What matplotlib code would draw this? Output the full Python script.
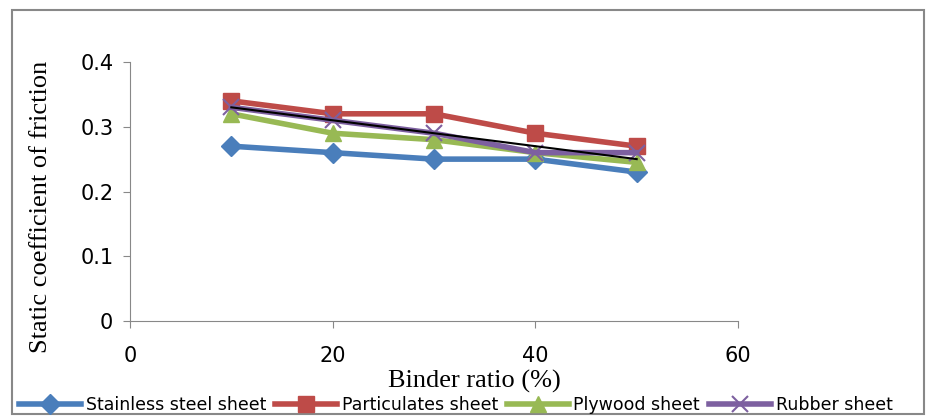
import matplotlib.pyplot as plt
from matplotlib.patches import Rectangle

# data
binder = [10, 20, 30, 40, 50]
stainless = [0.27, 0.26, 0.25, 0.25, 0.23]
particulates = [0.34, 0.32, 0.32, 0.29, 0.27]
plywood = [0.32, 0.29, 0.28, 0.26, 0.245]
rubber = [0.33, 0.31, 0.29, 0.26, 0.26]
trend_x = [10, 50]
trend_y = [0.33, 0.25]

fig = plt.figure(figsize=(9.28, 4.16), dpi=100)
ax = fig.add_axes([130 / 928, 1 - 321 / 416, 608 / 928, 259 / 416])

ax.plot(binder, stainless, color='#4a7ebb', lw=4, marker='D', ms=10, label='Stainless steel sheet')
ax.plot(binder, particulates, color='#be4b48', lw=4, marker='s', ms=12, label='Particulates sheet')
ax.plot(binder, plywood, color='#98b954', lw=4, marker='^', ms=12, label='Plywood sheet')
ax.plot(binder, rubber, color='#7d60a0', lw=4, marker='x', ms=12, mew=1.5, label='Rubber sheet')
ax.plot(trend_x, trend_y, color='black', lw=1.5)

ax.set_xlim(0, 60)
ax.set_ylim(0, 0.4)
ax.set_xticks([0, 20, 40, 60])
ax.set_yticks([0, 0.1, 0.2, 0.3, 0.4])
ax.set_yticklabels(['0', '0.1', '0.2', '0.3', '0.4'])
for s in ['top', 'right']:
    ax.spines[s].set_visible(False)
for s in ['left', 'bottom']:
    ax.spines[s].set_color('#888888')
ax.tick_params(direction='out', length=5, color='#888888', labelsize=15, pad=7)
ax.tick_params(axis='x', pad=13)

ax.set_xlabel('Binder ratio (%)', family='Liberation Serif', fontsize=19)
ax.xaxis.set_label_coords(0.566, -0.19)
ax.set_ylabel('Static coefficient of friction', family='Liberation Serif', fontsize=19)
ax.yaxis.set_label_coords(-0.129, 0.44)

fig.legend(loc='lower left', bbox_to_anchor=(12 / 928, -0.012), ncol=4, frameon=False,
           prop={'family': 'DejaVu Sans', 'size': 12.5},
           handlelength=3.6, columnspacing=0.5, handletextpad=0.25, borderaxespad=0)

fig.patches.append(Rectangle((12 / 928, 2 / 416), 912 / 928, 404 / 416, transform=fig.transFigure,
                             fill=False, edgecolor='#888888', lw=1.5))

fig.savefig('out.png', dpi=100)
